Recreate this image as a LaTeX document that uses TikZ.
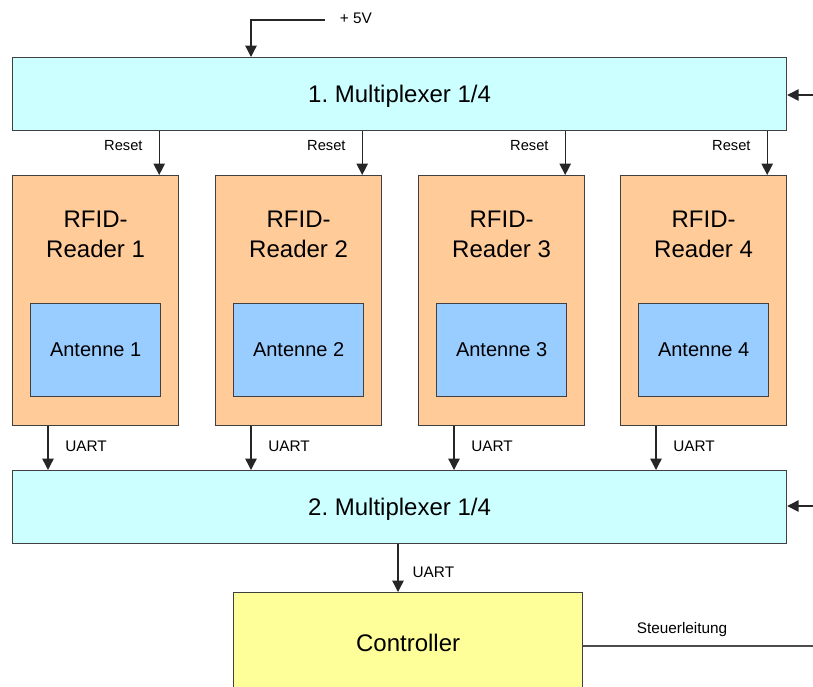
\documentclass[tikz,border=0pt]{standalone}
\usepackage{fontspec}
\setmainfont{Liberation Sans}
\usetikzlibrary{arrows.meta,positioning}
\frenchspacing

\definecolor{muxfill}{HTML}{CCFFFF}
\definecolor{readerfill}{HTML}{FFCC99}
\definecolor{antfill}{HTML}{99CCFF}
\definecolor{ctrlfill}{HTML}{FFFF99}
\definecolor{boxline}{HTML}{404040}

\begin{document}
\begin{tikzpicture}[x=0.75pt,y=-0.75pt,
    box/.style={draw=boxline,line width=0.9pt,inner sep=0pt,anchor=north west},
    mux/.style={box,fill=muxfill,minimum width=580.5pt,minimum height=54.75pt,text depth=0pt,font=\fontsize{18}{22}\selectfont},
    reader/.style={box,fill=readerfill,minimum width=124.5pt,minimum height=187.5pt},
    antenna/.style={box,fill=antfill,minimum width=97.5pt,minimum height=69.75pt,font=\fontsize{15}{18}\selectfont},
    ctrl/.style={box,fill=ctrlfill,minimum width=261.75pt,minimum height=75pt,font=\fontsize{18}{22}\selectfont},
    title/.style={align=center,inner sep=0pt,anchor=north,font=\fontsize{18}{22.5}\selectfont},
    sig/.style={line width=1pt,draw=black!85,-{Triangle[width=8.5pt,length=8.5pt]}},
    lbl/.style={inner sep=0pt,font=\fontsize{11.5}{13}\selectfont}]
  %\draw[help lines] (0,0) grid[step=50] (813,686);
  \clip (0,0) rectangle (813,686);

  \node[mux] (mux1) at (12,57) {1. Multiplexer 1/4};
  \node[mux] (mux2) at (12,470) {2. Multiplexer 1/4};
  \node[ctrl] (ctl) at (233,592) {Controller};

  \foreach \i/\x in {1/12, 2/215, 3/418, 4/620} {
    \node[reader] (r\i) at (\x,175) {};
    \node[title] (t\i) at ([yshift=-27pt]r\i.north) {RFID-\\Reader \i};
    \node[antenna] (a\i) at (\x+18,303) {Antenne \i};

    \coordinate (rin\i) at ([xshift=-15pt]r\i.north east);
    \coordinate (rout\i) at ([xshift=27pt]r\i.south west);

    \draw[sig] (rin\i |- mux1.south) -- (rin\i)
      node[midway,left=12pt,yshift=6pt,lbl,font=\fontsize{11}{13}\selectfont] {Reset};
    \draw[sig] (rout\i) -- (rout\i |- mux2.north)
      node[midway,right=12.5pt,yshift=1.5pt,lbl] {UART};
  }

  % supply and select inputs
  \coordinate (vcc) at (325,20);
  \coordinate (vin) at (251,57);
  \draw[sig] (vcc) -| (vin);
  \node[lbl,right=11pt of vcc,yshift=1.5pt] (vlbl) {+ 5V};

  \coordinate (sel1) at (813,95);
  \coordinate (sel2) at (813,506);
  \draw[sig] (sel1) -- (sel1 -| mux1.east);
  \draw[sig] (sel2) -- (sel2 -| mux2.east);

  % to the controller
  \coordinate (cin) at (398,592);
  \draw[sig] (cin |- mux2.south) -- (cin)
    node[midway,right=10.5pt,yshift=-3pt,lbl] {UART};

  \coordinate (cout) at (813,646);
  \draw[line width=1pt,draw=black!70] (ctl.east |- cout) -- (cout)
    node[pos=0.43,above=6.75pt,lbl] {Steuerleitung};
\end{tikzpicture}
\end{document}
